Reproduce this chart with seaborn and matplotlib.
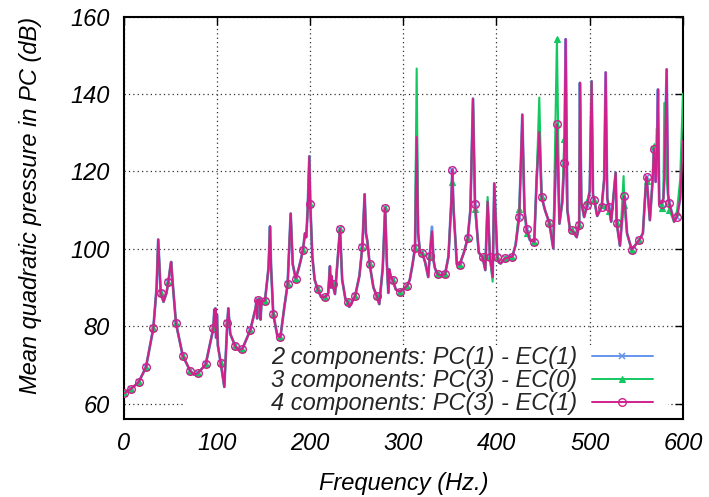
import matplotlib
matplotlib.use("Agg")
import matplotlib.pyplot as plt
import seaborn as sns
from matplotlib.patches import Rectangle

# ---- data (frequency in Hz, level in dB) ----
freq = [0.5, 8, 16.2, 24.1, 32, 35.5, 37.2, 39.9, 42.9, 46, 48, 50.3, 51.1, 52.8,
        56.3, 63.5, 71.6, 75.5, 79.6, 88.1, 96.3, 97.4, 98.1, 98.6, 99.3, 100.2,
        101.2, 104.2, 108.1, 111.3, 112.4, 114.5, 119.9, 123.5, 127.4, 136, 141.5,
        142.8, 143.3, 143.9, 146, 147, 148, 151.7, 155.5, 157.1, 158.3, 160.6, 165,
        168.2, 172.5, 176, 179.3, 181.5, 184.7, 188, 190.5, 192.5, 194.6, 196,
        197.5, 199.3, 200.3, 202.5, 205, 208.2, 212, 216.4, 219.5, 221.4, 222.2,
        223, 224.3, 226.8, 230.5, 232.2, 234.5, 238, 240.4, 242.2, 248.3, 253,
        256.1, 258.6, 260, 261.5, 264, 268, 271.8, 274.3, 278, 280.6, 282.5, 284,
        285, 286.5, 288.7, 292, 296.5, 300, 304.4, 307, 310, 312.6, 314.4, 316,
        318, 320.4, 323.5, 326.8, 328.4, 330.8, 332.5, 334, 337, 340, 344.8, 348.5,
        351.5, 352.6, 354, 357.5, 360.5, 365, 369.1, 372, 374.8, 377, 381, 385,
        388, 390.5, 393, 395.9, 397.6, 400.9, 402.5, 404.5, 409.1, 413, 417, 420.5,
        424.4, 427.7, 430, 432.4, 436, 440.5, 443, 445.9, 448.4, 452, 456.6, 460.9,
        464.8, 467.5, 470.5, 472.7, 474.2, 476, 478.8, 481, 486, 488.7, 489.5, 491,
        494, 497.4, 500, 502, 503.5, 504.9, 508, 512.8, 515.5, 517.1, 518.8, 520.6,
        523, 527.8, 528.9, 532.4, 536.3, 537.2, 540, 545, 549, 553, 557, 560, 561,
        564.5, 567.5, 568.9, 570.7, 572, 573.2, 574.5, 577.1, 579, 580, 582.5, 584,
        585.3, 590.5, 593.5, 597, 600]

db_4comp = [62.6, 63.8, 65.5, 69.4, 79.5, 90, 102.4, 88.6, 86.3, 88.5, 91.3, 95.5, 96.6, 91,
            80.7, 72.4, 68.4, 67.5, 67.8, 70.1, 79.4, 84.3, 80, 84.6, 77, 83,
            75, 70.6, 64.3, 80.7, 84.6, 78, 74.8, 73.8, 74.1, 79, 84.5,
            86.7, 82, 86.7, 87, 81.7, 86.3, 86.6, 95, 105.8, 95, 83.1, 77.5,
            77.1, 85, 90.8, 109.1, 96, 92.3, 95, 97.5, 99.8, 104, 103,
            110, 123.9, 111.7, 98, 92, 89.6, 87.5, 87.5, 88.5, 95.5, 90,
            93, 90.8, 88.3, 100, 105.2, 92, 87, 86.3, 85, 87.7, 93,
            100.5, 114.1, 104, 102, 96, 90, 87.7, 85.7, 95, 110.6, 96, 88.6,
            94.7, 93, 91.9, 89.5, 88.9, 89.5, 90.5, 92, 96, 100.2, 128.9, 104,
            99, 98.9, 96.5, 92.7, 98.2, 104.5, 97, 95, 93.4, 93.2, 93.4, 98,
            112, 120.5, 110, 96, 95.9, 99, 102.7, 110, 138.8, 111.5, 99, 97.9,
            94.5, 112.2, 97.8, 92.7, 116.9, 97.8, 96.5, 96.2, 97.5, 97.8, 98, 101,
            108.3, 134.7, 110, 105, 102.2, 101.8, 117.7, 130.2, 113.4, 110, 106.8, 100.1,
            132.2, 106.5, 112, 122.3, 154.2, 110, 105, 104.8, 103, 106.1, 142.9, 112,
            108.2, 111.3, 115, 143.3, 114, 112.6, 108.5, 110.8, 118, 145.6, 113, 110.8,
            107, 119.7, 106.7, 100.8, 112, 113.6, 104, 99.8, 101, 102.2, 104, 116, 118.6,
            107.4, 118, 125.9, 117.3, 125, 141.2, 112, 111.7, 113, 118, 146.4, 114,
            111.9, 107, 108.2, 113, 128]

# frequencies where the curves carry a marker
marker_freq = [0.5, 8, 16.2, 24.1, 32, 39.9, 48, 56.3, 63.5, 71.6, 79.6, 88.1, 96.3,
               104.2, 111.3, 119.9, 127.4, 136, 143.9, 151.7, 160.6, 168.2, 176, 184.7,
               192.5, 200.3, 208.2, 216.4, 224.3, 232.2, 240.4, 248.3, 256.1, 264, 271.8,
               280.6, 288.7, 296.5, 304.4, 312.6, 320.4, 328.4, 337, 344.8, 352.6, 360.5,
               369.1, 377, 385, 393, 400.9, 409.1, 417, 424.4, 432.4, 440.5, 448.4, 456.6,
               464.8, 472.7, 481, 488.7, 497.4, 504.9, 512.8, 520.6, 528.9, 537.2, 545,
               553, 561, 568.9, 577.1, 585.3, 593.5]

# where the 3-component curve departs from the 4-component one
db_3comp_diff = {314.4: 146.6, 352.6: 117.2, 377: 110.4, 390.5: 113.4, 395.9: 91.5,
                 424.4: 110.4, 427.7: 132.4, 432.4: 104, 445.9: 139.1, 464.8: 154.3,
                 472.7: 128.5, 474.2: 122, 497.4: 112.3, 512.8: 111.3, 517.1: 131,
                 520.6: 109.8, 536.3: 118.8, 537.2: 111.3, 561: 117.6, 568.9: 126.6,
                 570.7: 121, 572: 131.1, 573.2: 125, 577.1: 110.5, 580: 137.7,
                 582.5: 118, 585.3: 110, 593.5: 109.5, 597: 118, 600: 140.1}
# where the 2-component curve departs from the 4-component one
db_2comp_diff = {330.8: 105.7}

labels = ["2 components: PC(1) - EC(1)",
          "3 components: PC(3) - EC(0)",
          "4 components: PC(3) - EC(1)"]

db_3comp = [db_3comp_diff.get(f, v) for f, v in zip(freq, db_4comp)]
db_2comp = [db_2comp_diff.get(f, v) for f, v in zip(freq, db_4comp)]
mark_idx = [freq.index(f) for f in marker_freq]

# ---- styling ----
sns.set_theme(style="white")
plt.rcParams["font.family"] = ["Liberation Sans", "DejaVu Sans"]
plt.rcParams["font.style"] = "italic"

fig = plt.figure(figsize=(7.09, 4.97), dpi=100)
ax = fig.add_axes([0.1742, 0.1569, 0.7891, 0.8095])

c_blue, c_green, c_mag = "#6495ed", "#12c860", "#d0208c"

sns.lineplot(x=freq, y=db_2comp, ax=ax, sort=False, estimator=None, color=c_blue,
             lw=2.0, marker="x", markevery=mark_idx, markersize=4, mew=1.1,
             mec=c_blue, label=labels[0], zorder=2)
sns.lineplot(x=freq, y=db_3comp, ax=ax, sort=False, estimator=None, color=c_green,
             lw=1.5, marker="^", markevery=mark_idx, markersize=4, mew=0.8,
             mec=c_green, mfc=c_green, label=labels[1], zorder=3)
sns.lineplot(x=freq, y=db_4comp, ax=ax, sort=False, estimator=None, color=c_mag,
             lw=1.5, marker="o", markevery=mark_idx, markersize=5.5, mew=1.0,
             mec=c_mag, mfc="none", label=labels[2], zorder=4)

ax.set_xlim(0, 600)
ax.set_ylim(56, 160)
ax.set_xticks(range(0, 601, 100))
ax.set_yticks(range(60, 161, 20))

ax.set_axisbelow(True)
ax.grid(True, linestyle=(0, (1, 2.5)), color="#333333", lw=0.9)
ax.add_patch(Rectangle((0.11, 0.0), 0.863, 0.184, transform=ax.transAxes,
                       facecolor="white", edgecolor="none", zorder=1))

for s in ax.spines.values():
    s.set_color("black")
    s.set_linewidth(1.5)
ax.tick_params(direction="in", length=6, width=1, top=True, right=True,
               labelsize=17, colors="black")
ax.tick_params(axis="x", pad=9)
ax.tick_params(axis="y", pad=10)

ax.set_xlabel("Frequency (Hz.)", fontsize=17, color="black")
ax.set_ylabel("Mean quadratic pressure in PC (dB)", fontsize=17, color="black")
ax.xaxis.set_label_coords(0.501, -0.132)
ax.yaxis.set_label_coords(-0.146, 0.531)

leg = ax.legend(loc="lower right", bbox_to_anchor=(0.9464, 0.01), frameon=False,
                markerfirst=False, handlelength=2.6, handletextpad=0.6,
                fontsize=17, labelspacing=0.0, borderpad=0, borderaxespad=0)
for ln in leg.get_lines():
    ln.set_linewidth(1.4)
leg.set_zorder(5)

fig.savefig("out.png", dpi=100)
